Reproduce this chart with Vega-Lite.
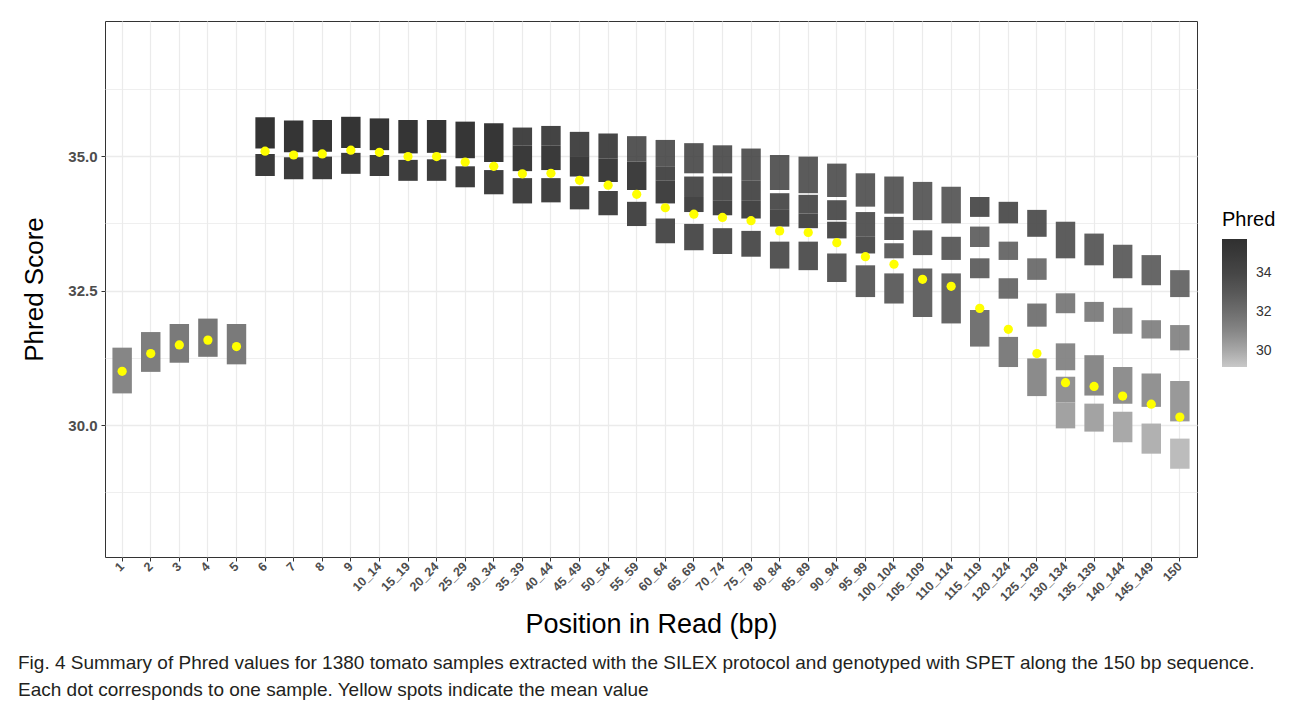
{
  "$schema": "https://vega.github.io/schema/vega-lite/v6.json",
  "width": 1092,
  "height": 536,
  "autosize": {"type": "none"},
  "padding": {"left": 105, "top": 21, "right": 93, "bottom": 153},
  "background": "white",
  "title": {
    "text": ["Fig. 4  Summary of Phred values for 1380 tomato samples extracted with the SILEX protocol and genotyped with SPET along the 150 bp sequence.", "Each dot corresponds to one sample. Yellow spots indicate the mean value"],
    "orient": "bottom",
    "anchor": "start",
    "frame": "group",
    "dx": -87,
    "offset": 17,
    "font": "Liberation Sans",
    "fontSize": 19,
    "fontWeight": "normal",
    "color": "#231f20",
    "lineHeight": 27
  },
  "config": {
    "view": {"stroke": "#333333", "strokeWidth": 1},
    "axis": {
      "domain": false,
      "gridColor": "#ebebeb",
      "tickColor": "#333333",
      "tickSize": 4,
      "labelColor": "#4d4d4d",
      "labelFont": "Liberation Sans",
      "labelFontWeight": "bold",
      "titleFont": "Liberation Sans",
      "titleFontWeight": "normal",
      "titleColor": "#000000"
    }
  },
  "datasets": {
    "clusters": [
      {"pos": "1", "lo": 30.59, "hi": 31.44, "Phred": 31.02, "density": "dense"},
      {"pos": "2", "lo": 30.99, "hi": 31.73, "Phred": 31.36, "density": "dense"},
      {"pos": "3", "lo": 31.16, "hi": 31.88, "Phred": 31.52, "density": "dense"},
      {"pos": "4", "lo": 31.27, "hi": 31.98, "Phred": 31.62, "density": "dense"},
      {"pos": "5", "lo": 31.13, "hi": 31.88, "Phred": 31.5, "density": "dense"},
      {"pos": "6", "lo": 35.14, "hi": 35.72, "Phred": 35.43, "density": "dense"},
      {"pos": "6", "lo": 34.63, "hi": 35.04, "Phred": 34.84, "density": "dense"},
      {"pos": "7", "lo": 35.07, "hi": 35.66, "Phred": 35.37, "density": "dense"},
      {"pos": "7", "lo": 34.57, "hi": 34.98, "Phred": 34.78, "density": "dense"},
      {"pos": "8", "lo": 35.08, "hi": 35.67, "Phred": 35.38, "density": "dense"},
      {"pos": "8", "lo": 34.57, "hi": 34.99, "Phred": 34.78, "density": "dense"},
      {"pos": "9", "lo": 35.15, "hi": 35.73, "Phred": 35.44, "density": "dense"},
      {"pos": "9", "lo": 34.67, "hi": 35.06, "Phred": 34.87, "density": "dense"},
      {"pos": "10_14", "lo": 35.11, "hi": 35.7, "Phred": 35.41, "density": "dense"},
      {"pos": "10_14", "lo": 34.63, "hi": 35.02, "Phred": 34.83, "density": "dense"},
      {"pos": "15_19", "lo": 35.05, "hi": 35.67, "Phred": 35.36, "density": "dense"},
      {"pos": "15_19", "lo": 34.54, "hi": 34.93, "Phred": 34.74, "density": "dense"},
      {"pos": "20_24", "lo": 35.06, "hi": 35.67, "Phred": 35.37, "density": "dense"},
      {"pos": "20_24", "lo": 34.54, "hi": 34.94, "Phred": 34.74, "density": "dense"},
      {"pos": "25_29", "lo": 34.96, "hi": 35.64, "Phred": 35.3, "density": "dense"},
      {"pos": "25_29", "lo": 34.42, "hi": 34.81, "Phred": 34.62, "density": "dense"},
      {"pos": "30_34", "lo": 34.89, "hi": 35.61, "Phred": 35.25, "density": "dense"},
      {"pos": "30_34", "lo": 34.29, "hi": 34.74, "Phred": 34.52, "density": "dense"},
      {"pos": "35_39", "lo": 35.2, "hi": 35.53, "Phred": 35.37, "density": "medium"},
      {"pos": "35_39", "lo": 34.72, "hi": 35.2, "Phred": 34.96, "density": "dense"},
      {"pos": "35_39", "lo": 34.12, "hi": 34.59, "Phred": 34.36, "density": "dense"},
      {"pos": "40_44", "lo": 35.2, "hi": 35.56, "Phred": 35.38, "density": "medium"},
      {"pos": "40_44", "lo": 34.74, "hi": 35.2, "Phred": 34.97, "density": "dense"},
      {"pos": "40_44", "lo": 34.14, "hi": 34.59, "Phred": 34.37, "density": "dense"},
      {"pos": "45_49", "lo": 35.0, "hi": 35.45, "Phred": 35.23, "density": "medium"},
      {"pos": "45_49", "lo": 34.62, "hi": 35.0, "Phred": 34.81, "density": "dense"},
      {"pos": "45_49", "lo": 34.01, "hi": 34.44, "Phred": 34.23, "density": "dense"},
      {"pos": "50_54", "lo": 34.95, "hi": 35.42, "Phred": 35.19, "density": "medium"},
      {"pos": "50_54", "lo": 34.52, "hi": 34.95, "Phred": 34.74, "density": "dense"},
      {"pos": "50_54", "lo": 33.9, "hi": 34.35, "Phred": 34.13, "density": "dense"},
      {"pos": "55_59", "lo": 34.9, "hi": 35.37, "Phred": 35.14, "density": "sparse"},
      {"pos": "55_59", "lo": 34.37, "hi": 34.9, "Phred": 34.64, "density": "dense"},
      {"pos": "55_59", "lo": 33.7, "hi": 34.15, "Phred": 33.93, "density": "dense"},
      {"pos": "60_64", "lo": 34.8, "hi": 35.3, "Phred": 35.05, "density": "sparse"},
      {"pos": "60_64", "lo": 34.55, "hi": 34.8, "Phred": 34.68, "density": "medium"},
      {"pos": "60_64", "lo": 34.12, "hi": 34.55, "Phred": 34.34, "density": "dense"},
      {"pos": "60_64", "lo": 33.38, "hi": 33.84, "Phred": 33.61, "density": "dense"},
      {"pos": "65_69", "lo": 34.68, "hi": 35.24, "Phred": 34.96, "density": "sparse"},
      {"pos": "65_69", "lo": 34.24, "hi": 34.62, "Phred": 34.43, "density": "medium"},
      {"pos": "65_69", "lo": 33.96, "hi": 34.24, "Phred": 34.1, "density": "dense"},
      {"pos": "65_69", "lo": 33.25, "hi": 33.74, "Phred": 33.5, "density": "dense"},
      {"pos": "70_74", "lo": 34.68, "hi": 35.2, "Phred": 34.94, "density": "sparse"},
      {"pos": "70_74", "lo": 34.18, "hi": 34.62, "Phred": 34.4, "density": "medium"},
      {"pos": "70_74", "lo": 33.9, "hi": 34.18, "Phred": 34.04, "density": "dense"},
      {"pos": "70_74", "lo": 33.18, "hi": 33.66, "Phred": 33.42, "density": "dense"},
      {"pos": "75_79", "lo": 34.55, "hi": 35.14, "Phred": 34.85, "density": "sparse"},
      {"pos": "75_79", "lo": 34.18, "hi": 34.55, "Phred": 34.37, "density": "medium"},
      {"pos": "75_79", "lo": 33.84, "hi": 34.18, "Phred": 34.01, "density": "dense"},
      {"pos": "75_79", "lo": 33.13, "hi": 33.61, "Phred": 33.37, "density": "dense"},
      {"pos": "80_84", "lo": 34.37, "hi": 35.02, "Phred": 34.7, "density": "sparse"},
      {"pos": "80_84", "lo": 34.0, "hi": 34.31, "Phred": 34.16, "density": "medium"},
      {"pos": "80_84", "lo": 33.69, "hi": 34.0, "Phred": 33.85, "density": "dense"},
      {"pos": "80_84", "lo": 32.91, "hi": 33.41, "Phred": 33.16, "density": "dense"},
      {"pos": "85_89", "lo": 34.31, "hi": 34.99, "Phred": 34.65, "density": "sparse"},
      {"pos": "85_89", "lo": 33.93, "hi": 34.28, "Phred": 34.11, "density": "medium"},
      {"pos": "85_89", "lo": 33.66, "hi": 33.93, "Phred": 33.8, "density": "dense"},
      {"pos": "85_89", "lo": 32.88, "hi": 33.41, "Phred": 33.15, "density": "dense"},
      {"pos": "90_94", "lo": 34.24, "hi": 34.86, "Phred": 34.55, "density": "sparse"},
      {"pos": "90_94", "lo": 33.81, "hi": 34.18, "Phred": 34.0, "density": "medium"},
      {"pos": "90_94", "lo": 33.47, "hi": 33.78, "Phred": 33.63, "density": "dense"},
      {"pos": "90_94", "lo": 32.66, "hi": 33.19, "Phred": 32.93, "density": "dense"},
      {"pos": "95_99", "lo": 34.06, "hi": 34.68, "Phred": 34.37, "density": "sparse"},
      {"pos": "95_99", "lo": 33.5, "hi": 33.96, "Phred": 33.73, "density": "medium"},
      {"pos": "95_99", "lo": 33.19, "hi": 33.5, "Phred": 33.35, "density": "dense"},
      {"pos": "95_99", "lo": 32.38, "hi": 32.97, "Phred": 32.68, "density": "dense"},
      {"pos": "100_104", "lo": 33.93, "hi": 34.62, "Phred": 34.28, "density": "sparse"},
      {"pos": "100_104", "lo": 33.44, "hi": 33.87, "Phred": 33.66, "density": "medium"},
      {"pos": "100_104", "lo": 33.1, "hi": 33.38, "Phred": 33.24, "density": "medium"},
      {"pos": "100_104", "lo": 32.26, "hi": 32.82, "Phred": 32.54, "density": "dense"},
      {"pos": "105_109", "lo": 33.81, "hi": 34.52, "Phred": 34.17, "density": "sparse"},
      {"pos": "105_109", "lo": 33.16, "hi": 33.62, "Phred": 33.39, "density": "medium"},
      {"pos": "105_109", "lo": 32.01, "hi": 32.91, "Phred": 32.46, "density": "dense"},
      {"pos": "110_114", "lo": 33.75, "hi": 34.43, "Phred": 34.09, "density": "sparse"},
      {"pos": "110_114", "lo": 33.07, "hi": 33.5, "Phred": 33.29, "density": "medium"},
      {"pos": "110_114", "lo": 31.89, "hi": 32.82, "Phred": 32.36, "density": "dense"},
      {"pos": "115_119", "lo": 33.87, "hi": 34.24, "Phred": 34.06, "density": "medium"},
      {"pos": "115_119", "lo": 33.31, "hi": 33.69, "Phred": 33.5, "density": "sparse"},
      {"pos": "115_119", "lo": 32.73, "hi": 33.1, "Phred": 32.92, "density": "medium"},
      {"pos": "115_119", "lo": 31.46, "hi": 32.14, "Phred": 31.8, "density": "dense"},
      {"pos": "120_124", "lo": 33.75, "hi": 34.15, "Phred": 33.95, "density": "medium"},
      {"pos": "120_124", "lo": 33.07, "hi": 33.41, "Phred": 33.24, "density": "sparse"},
      {"pos": "120_124", "lo": 32.35, "hi": 32.73, "Phred": 32.54, "density": "medium"},
      {"pos": "120_124", "lo": 31.08, "hi": 31.64, "Phred": 31.36, "density": "dense"},
      {"pos": "125_129", "lo": 33.5, "hi": 34.0, "Phred": 33.75, "density": "medium"},
      {"pos": "125_129", "lo": 32.7, "hi": 33.1, "Phred": 32.9, "density": "sparse"},
      {"pos": "125_129", "lo": 31.83, "hi": 32.26, "Phred": 32.05, "density": "medium"},
      {"pos": "125_129", "lo": 30.54, "hi": 31.24, "Phred": 30.89, "density": "dense"},
      {"pos": "130_134", "lo": 33.1, "hi": 33.78, "Phred": 33.44, "density": "medium"},
      {"pos": "130_134", "lo": 32.08, "hi": 32.45, "Phred": 32.27, "density": "sparse"},
      {"pos": "130_134", "lo": 31.02, "hi": 31.52, "Phred": 31.27, "density": "medium"},
      {"pos": "130_134", "lo": 30.42, "hi": 30.9, "Phred": 30.66, "density": "dense"},
      {"pos": "130_134", "lo": 29.94, "hi": 30.42, "Phred": 30.18, "density": "dense"},
      {"pos": "135_139", "lo": 32.97, "hi": 33.56, "Phred": 33.27, "density": "medium"},
      {"pos": "135_139", "lo": 31.92, "hi": 32.29, "Phred": 32.11, "density": "sparse"},
      {"pos": "135_139", "lo": 30.55, "hi": 31.3, "Phred": 30.93, "density": "dense"},
      {"pos": "135_139", "lo": 29.88, "hi": 30.4, "Phred": 30.14, "density": "dense"},
      {"pos": "140_144", "lo": 32.73, "hi": 33.35, "Phred": 33.04, "density": "medium"},
      {"pos": "140_144", "lo": 31.7, "hi": 32.18, "Phred": 31.94, "density": "sparse"},
      {"pos": "140_144", "lo": 30.4, "hi": 31.08, "Phred": 30.74, "density": "dense"},
      {"pos": "140_144", "lo": 29.68, "hi": 30.25, "Phred": 29.97, "density": "dense"},
      {"pos": "145_149", "lo": 32.6, "hi": 33.16, "Phred": 32.88, "density": "medium"},
      {"pos": "145_149", "lo": 31.61, "hi": 31.95, "Phred": 31.78, "density": "sparse"},
      {"pos": "145_149", "lo": 30.34, "hi": 30.96, "Phred": 30.65, "density": "dense"},
      {"pos": "145_149", "lo": 29.47, "hi": 30.03, "Phred": 29.75, "density": "dense"},
      {"pos": "150", "lo": 32.38, "hi": 32.88, "Phred": 32.63, "density": "medium"},
      {"pos": "150", "lo": 31.39, "hi": 31.86, "Phred": 31.63, "density": "sparse"},
      {"pos": "150", "lo": 30.07, "hi": 30.82, "Phred": 30.45, "density": "dense"},
      {"pos": "150", "lo": 29.19, "hi": 29.75, "Phred": 29.47, "density": "dense"}
    ],
    "means": [
      {"pos": "1", "mean": 31.0}, {"pos": "2", "mean": 31.33}, {"pos": "3", "mean": 31.49},
      {"pos": "4", "mean": 31.58}, {"pos": "5", "mean": 31.46}, {"pos": "6", "mean": 35.09},
      {"pos": "7", "mean": 35.02}, {"pos": "8", "mean": 35.04}, {"pos": "9", "mean": 35.11},
      {"pos": "10_14", "mean": 35.07}, {"pos": "15_19", "mean": 34.99}, {"pos": "20_24", "mean": 34.99},
      {"pos": "25_29", "mean": 34.89}, {"pos": "30_34", "mean": 34.81}, {"pos": "35_39", "mean": 34.67},
      {"pos": "40_44", "mean": 34.68}, {"pos": "45_49", "mean": 34.55}, {"pos": "50_54", "mean": 34.46},
      {"pos": "55_59", "mean": 34.29}, {"pos": "60_64", "mean": 34.04}, {"pos": "65_69", "mean": 33.92},
      {"pos": "70_74", "mean": 33.86}, {"pos": "75_79", "mean": 33.8}, {"pos": "80_84", "mean": 33.61},
      {"pos": "85_89", "mean": 33.58}, {"pos": "90_94", "mean": 33.39}, {"pos": "95_99", "mean": 33.13},
      {"pos": "100_104", "mean": 32.99}, {"pos": "105_109", "mean": 32.71}, {"pos": "110_114", "mean": 32.58},
      {"pos": "115_119", "mean": 32.17}, {"pos": "120_124", "mean": 31.78}, {"pos": "125_129", "mean": 31.33},
      {"pos": "130_134", "mean": 30.79}, {"pos": "135_139", "mean": 30.72}, {"pos": "140_144", "mean": 30.54},
      {"pos": "145_149", "mean": 30.39}, {"pos": "150", "mean": 30.15}
    ]
  },
  "encoding": {
    "x": {
      "field": "pos",
      "type": "nominal",
      "scale": {
        "type": "band",
        "domain": ["1", "2", "3", "4", "5", "6", "7", "8", "9", "10_14", "15_19", "20_24", "25_29", "30_34", "35_39", "40_44", "45_49", "50_54", "55_59", "60_64", "65_69", "70_74", "75_79", "80_84", "85_89", "90_94", "95_99", "100_104", "105_109", "110_114", "115_119", "120_124", "125_129", "130_134", "135_139", "140_144", "145_149", "150"],
        "paddingInner": 0,
        "paddingOuter": 0.1
      },
      "axis": {
        "title": "Position in Read (bp)",
        "titleFontSize": 27,
        "titlePadding": 8,
        "labelAngle": -45,
        "labelAlign": "right",
        "labelBaseline": "middle",
        "labelFontSize": 12.5,
        "labelPadding": 3,
        "bandPosition": 0.5,
        "grid": true,
        "gridWidth": 1.2
      }
    }
  },
  "layer": [
    {
      "data": {"name": "clusters"},
      "mark": {"type": "bar", "width": {"band": 0.68}},
      "encoding": {
        "y": {
          "field": "lo",
          "type": "quantitative",
          "scale": {"domain": [27.55, 37.51], "nice": false, "zero": false},
          "axis": {
            "title": "Phred Score",
            "titleFontSize": 26,
            "titlePadding": 20,
            "values": [28.75, 30, 31.25, 32.5, 33.75, 35, 36.25],
            "labelExpr": "datum.value % 2.5 == 0 ? format(datum.value, '.1f') : ''",
            "labelFontSize": 15,
            "labelPadding": 4,
            "tickOpacity": {"condition": {"test": "datum.value % 2.5 != 0", "value": 0}, "value": 1},
            "gridWidth": {"condition": {"test": "datum.value % 2.5 != 0", "value": 0.8}, "value": 1.3},
            "grid": true
          }
        },
        "y2": {"field": "hi"},
        "fill": {
          "field": "Phred",
          "type": "quantitative",
          "scale": {
            "domain": [29.15, 30, 31, 32, 33, 34, 35.77],
            "range": ["#c8c8c8", "#a8a8a8", "#878787", "#6e6e6e", "#585858", "#464646", "#303030"]
          },
          "legend": {
            "title": "Phred",
            "orient": "none",
            "legendX": 1117,
            "legendY": 189,
            "padding": 0,
            "titleFontSize": 20,
            "titleFont": "Liberation Sans",
            "titleFontWeight": "normal",
            "titleColor": "#000000",
            "titlePadding": 9,
            "gradientLength": 128,
            "gradientThickness": 25,
            "gradientStrokeWidth": 0,
            "labelFontSize": 14,
            "labelFont": "Liberation Sans",
            "labelColor": "#333333",
            "labelOffset": 9,
            "values": [30, 32, 34]
          }
        },
        "opacity": {
          "field": "density",
          "type": "nominal",
          "scale": {"domain": ["dense", "medium", "sparse"], "range": [1, 0.85, 0.6]},
          "legend": null
        }
      }
    },
    {
      "data": {"name": "means"},
      "mark": {"type": "circle", "size": 85, "color": "#ffff00", "opacity": 1},
      "encoding": {
        "y": {"field": "mean", "type": "quantitative"}
      }
    }
  ]
}
